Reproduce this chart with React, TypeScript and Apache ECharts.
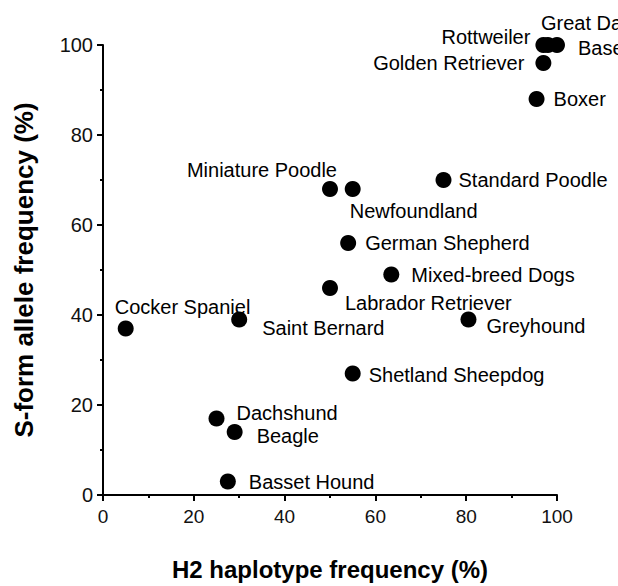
import React, { useEffect, useRef } from "react";
import * as echarts from "echarts";

const breeds = [
  "Rottweiler",
  "Great Dane",
  "Basenji",
  "Golden Retriever",
  "Boxer",
  "Miniature Poodle",
  "Newfoundland",
  "Standard Poodle",
  "German Shepherd",
  "Mixed-breed Dogs",
  "Labrador Retriever",
  "Cocker Spaniel",
  "Saint Bernard",
  "Greyhound",
  "Shetland Sheepdog",
  "Dachshund",
  "Beagle",
  "Basset Hound",
];
const h2Freq = [97, 98, 100, 97, 95.5, 50, 55, 75, 54, 63.5, 50, 5, 30, 80.5, 55, 25, 29, 27.5];
const sFormFreq = [100, 100, 100, 96, 88, 68, 68, 70, 56, 49, 46, 37, 39, 39, 27, 17, 14, 3];
const axisTicks = [0, 20, 40, 60, 80, 100];

// label placement per breed: [position, dx, dy]
const labelPlacement: [string, number, number][] = [
  ["left", 0, -8],
  ["right", -20, -22],
  ["right", 8, 3],
  ["left", -6, 0],
  ["right", 4, 0],
  ["left", 20, -19],
  ["right", -16, 22],
  ["right", 2, 0],
  ["right", 4, 0],
  ["right", 7, 0],
  ["right", 2, 15],
  ["right", -24, -22],
  ["right", 10, 8],
  ["right", 5, 6],
  ["right", 3, 1],
  ["right", 7, -6],
  ["right", 9, 4],
  ["right", 8, 0],
];

export default function App() {
  const ref = useRef<HTMLDivElement>(null);
  useEffect(() => {
    if (!ref.current) return;
    const chart = echarts.init(ref.current, null, { renderer: "svg" });
    const data = breeds.map((b, i) => ({
      name: b,
      value: [h2Freq[i], sFormFreq[i]],
      label: {
        position: labelPlacement[i][0] as any,
        offset: [labelPlacement[i][1], labelPlacement[i][2]],
      },
    }));
    const axisCommon = {
      type: "value" as const,
      min: axisTicks[0],
      max: axisTicks[axisTicks.length - 1],
      interval: 20,
      nameLocation: "middle" as const,
      axisLine: { show: true, lineStyle: { color: "#000", width: 2 } },
      axisTick: { show: true, length: 6, lineStyle: { color: "#000", width: 2 } },
      minorTick: { show: true, splitNumber: 2, length: 3, lineStyle: { color: "#000", width: 2 } },
      splitLine: { show: false },
      minorSplitLine: { show: false },
    };
    chart.setOption({
      animation: false,
      backgroundColor: "#fff",
      grid: { left: 103, right: 61, top: 45, bottom: 88, containLabel: false },
      xAxis: {
        ...axisCommon,
        name: "H2 haplotype frequency (%)",
        nameGap: 62,
        nameTextStyle: {
          fontFamily: "Liberation Sans",
          fontWeight: "bold",
          fontSize: 24,
          color: "#000",
        },
        axisLabel: { margin: 12, fontFamily: "Liberation Sans", fontSize: 19, color: "#111" },
      },
      yAxis: {
        ...axisCommon,
        name: "S-form allele frequency (%)",
        nameGap: 66,
        nameTextStyle: {
          fontFamily: "Liberation Sans",
          fontWeight: "bold",
          fontSize: 26,
          color: "#000",
        },
        axisLabel: { margin: 10, fontFamily: "Liberation Sans", fontSize: 20, color: "#111" },
      },
      series: [
        {
          type: "scatter",
          symbol: "circle",
          symbolSize: 16,
          clip: false,
          itemStyle: { color: "#000", opacity: 1 },
          label: {
            show: true,
            formatter: "{b}",
            fontFamily: "Liberation Sans",
            fontSize: 20,
            color: "#000",
            distance: 5,
          },
          data,
        },
      ],
    });
    return () => chart.dispose();
  }, []);
  return (
    <div
      ref={ref}
      style={{ position: "absolute", left: 0, top: 0, width: 618, height: 586 }}
    />
  );
}
